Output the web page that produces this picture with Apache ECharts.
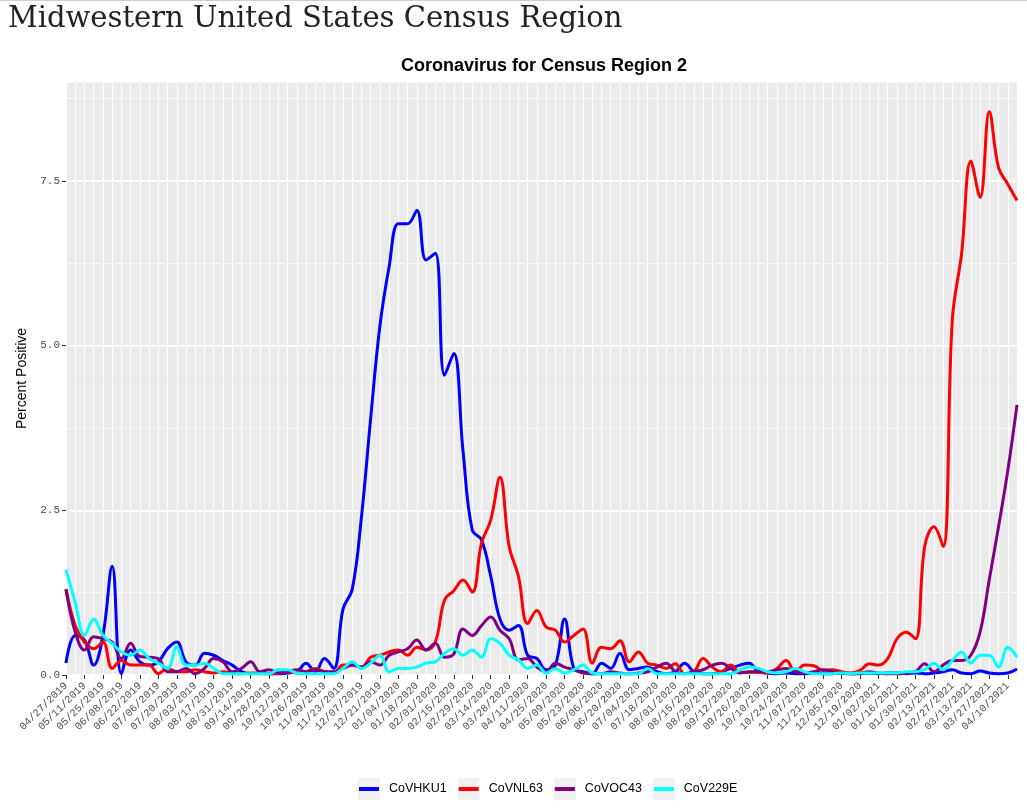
<!DOCTYPE html>
<html><head><meta charset="utf-8">
<script src="https://cdn.jsdelivr.net/npm/echarts@6/dist/echarts.min.js"></script>
<style>html,body{margin:0;padding:0;background:#fff}#c{width:1027px;height:809px}</style>
</head><body><div id="c"></div>
<script>
const weeks = [
'04/27/2019','05/04/2019','05/11/2019','05/18/2019','05/25/2019','06/01/2019','06/08/2019','06/15/2019','06/22/2019','06/29/2019',
'07/06/2019','07/13/2019','07/20/2019','07/27/2019','08/03/2019','08/10/2019','08/17/2019','08/24/2019','08/31/2019','09/07/2019',
'09/14/2019','09/21/2019','09/28/2019','10/05/2019','10/12/2019','10/19/2019','10/26/2019','11/02/2019','11/09/2019','11/16/2019',
'11/23/2019','11/30/2019','12/07/2019','12/14/2019','12/21/2019','12/28/2019','01/04/2020','01/11/2020','01/18/2020','01/25/2020',
'02/01/2020','02/08/2020','02/15/2020','02/22/2020','02/29/2020','03/07/2020','03/14/2020','03/21/2020','03/28/2020','04/04/2020',
'04/11/2020','04/18/2020','04/25/2020','05/02/2020','05/09/2020','05/16/2020','05/23/2020','05/30/2020','06/06/2020','06/13/2020',
'06/20/2020','06/27/2020','07/04/2020','07/11/2020','07/18/2020','07/25/2020','08/01/2020','08/08/2020','08/15/2020','08/22/2020',
'08/29/2020','09/05/2020','09/12/2020','09/19/2020','09/26/2020','10/03/2020','10/10/2020','10/17/2020','10/24/2020','10/31/2020',
'11/07/2020','11/14/2020','11/21/2020','11/28/2020','12/05/2020','12/12/2020','12/19/2020','12/26/2020','01/02/2021','01/09/2021',
'01/16/2021','01/23/2021','01/30/2021','02/06/2021','02/13/2021','02/20/2021','02/27/2021','03/06/2021','03/13/2021','03/20/2021',
'03/27/2021','04/03/2021','04/10/2021','04/17/2021'];

const yTicks = [0, 2.5, 5, 7.5];
const seriesNames = ['CoVHKU1', 'CoVNL63', 'CoVOC43', 'CoV229E'];
const seriesColors = ['#0000FF', '#FF0000', '#800080', '#00FFFF'];

const hku1 = [
0.18,0.6,0.53,0.15,0.6,1.65,0.02,0.38,0.2,0.15,
0.2,0.4,0.5,0.2,0.15,0.33,0.3,0.22,0.15,0.05,
0.02,0.03,0.02,0.02,0.03,0.05,0.18,0.05,0.25,0.1,
1.0,1.3,2.4,3.9,5.3,6.2,6.85,6.85,7.05,6.3,
6.4,4.55,4.88,3.4,2.2,2.05,1.5,0.85,0.68,0.75,
0.3,0.25,0.08,0.15,0.85,0.1,0.05,0.02,0.18,0.1,
0.33,0.08,0.1,0.12,0.05,0.02,0.05,0.18,0.05,0.02,
0.02,0.05,0.1,0.15,0.18,0.05,0.03,0.02,0.03,0.02,
0.02,0.03,0.02,0.02,0.03,0.02,0.02,0.03,0.02,0.03,
0.03,0.02,0.03,0.02,0.03,0.05,0.08,0.03,0.02,0.06,
0.03,0.02,0.03,0.09];

const nl63 = [
1.3,0.75,0.5,0.4,0.5,0.1,0.22,0.15,0.15,0.15,
0.02,0.1,0.05,0.05,0.08,0.05,0.03,0.05,0.03,0.02,
0.03,0.02,0.02,0.03,0.05,0.03,0.05,0.1,0.05,0.03,
0.15,0.15,0.12,0.27,0.3,0.35,0.38,0.3,0.42,0.38,
0.5,1.14,1.28,1.44,1.26,2.0,2.35,3.0,1.95,1.5,
0.78,0.98,0.73,0.68,0.5,0.6,0.7,0.18,0.42,0.4,
0.52,0.2,0.35,0.18,0.15,0.1,0.17,0.02,0.05,0.25,
0.12,0.05,0.15,0.04,0.04,0.04,0.03,0.1,0.22,0.05,
0.15,0.14,0.07,0.08,0.05,0.03,0.07,0.17,0.15,0.25,
0.55,0.65,0.55,1.95,2.25,1.95,5.4,6.4,7.8,7.25,
8.55,7.7,7.45,7.2];

const oc43 = [
1.3,0.65,0.38,0.58,0.55,0.5,0.25,0.48,0.28,0.27,
0.25,0.05,0.05,0.1,0.02,0.1,0.25,0.2,0.05,0.1,
0.2,0.05,0.08,0.03,0.05,0.08,0.05,0.08,0.05,0.05,
0.1,0.15,0.12,0.2,0.15,0.3,0.35,0.4,0.53,0.38,
0.48,0.27,0.32,0.7,0.6,0.75,0.88,0.68,0.55,0.23,
0.25,0.12,0.05,0.18,0.12,0.08,0.03,0.02,0.02,0.05,
0.03,0.02,0.03,0.05,0.12,0.18,0.05,0.02,0.05,0.08,
0.15,0.18,0.1,0.03,0.05,0.05,0.05,0.08,0.1,0.05,
0.03,0.05,0.08,0.05,0.03,0.02,0.03,0.05,0.03,0.02,
0.02,0.03,0.05,0.17,0.05,0.15,0.22,0.22,0.3,0.65,
1.45,2.25,3.1,4.1];

const c229e = [
1.6,1.1,0.6,0.85,0.6,0.48,0.35,0.3,0.38,0.25,
0.18,0.1,0.43,0.15,0.15,0.18,0.1,0.02,0.02,0.02,
0.02,0.02,0.02,0.08,0.08,0.03,0.02,0.02,0.02,0.02,
0.1,0.2,0.1,0.18,0.3,0.05,0.1,0.1,0.12,0.18,
0.2,0.33,0.4,0.3,0.38,0.27,0.55,0.48,0.3,0.23,
0.1,0.15,0.03,0.1,0.03,0.08,0.15,0.03,0.02,0.02,
0.02,0.02,0.02,0.1,0.02,0.02,0.02,0.02,0.02,0.02,
0.02,0.02,0.02,0.08,0.12,0.1,0.05,0.03,0.05,0.1,
0.05,0.02,0.02,0.02,0.03,0.02,0.03,0.03,0.03,0.03,
0.03,0.05,0.05,0.08,0.18,0.08,0.22,0.35,0.18,0.3,
0.3,0.12,0.42,0.27];

const seriesData = [hku1, nl63, oc43, c229e];

function keyIcon(color) {
  const svg = "<svg xmlns='http://www.w3.org/2000/svg' width='22' height='22'>" +
    "<rect width='22' height='22' fill='#F0F0F0'/>" +
    "<rect x='1' y='9' width='20' height='4' fill='" + color + "'/></svg>";
  return 'image://data:image/svg+xml;charset=utf-8,' + encodeURIComponent(svg);
}

const chart = echarts.init(document.getElementById('c'), null, {renderer: 'canvas'});
chart.setOption({
  animation: false,
  backgroundColor: '#FFFFFF',
  title: [
    {text: 'Midwestern United States Census Region', left: 3, top: 0,
     textStyle: {fontFamily: 'DejaVu Serif', fontSize: 29, fontWeight: 'normal', color: '#222222'}},
    {text: 'Coronavirus for Census Region 2', left: 539, top: 52, textAlign: 'center',
     textStyle: {fontFamily: 'Liberation Sans, Arial', fontSize: 18, fontWeight: 'bold', color: '#000000'}}
  ],
  graphic: [{type: 'rect', shape: {x: 0, y: 0, width: 1027, height: 1}, style: {fill: '#D0D0D0'}}],
  legend: {
    left: 353, top: 773, itemWidth: 22, itemHeight: 22, itemGap: 11,
    data: seriesNames.map((n, i) => ({name: n, icon: keyIcon(seriesColors[i])})),
    textStyle: {fontFamily: 'Liberation Sans, Arial', fontSize: 12.5, color: '#000000', padding: [0, 0, 0, 4]}
  },
  grid: {left: 66, right: 10, top: 82, bottom: 134, show: true, backgroundColor: '#EBEBEB', borderWidth: 0},
  xAxis: {
    type: 'category', data: weeks, boundaryGap: false,
    axisLine: {show: false},
    axisTick: {show: true, interval: 1, length: 4, lineStyle: {color: '#333333', width: 1}},
    axisLabel: {interval: 1, rotate: 45, fontFamily: 'Liberation Mono', fontSize: 10.5, color: '#4D4D4D', margin: 9},
    splitLine: {show: true, interval: 0, lineStyle: {color: '#FFFFFF', width: 1}}
  },
  yAxis: [
    {
      type: 'value', min: 0, max: 9, interval: 2.5,
      name: 'Percent Positive', nameLocation: 'middle', nameGap: 31,
      nameTextStyle: {fontFamily: 'Liberation Sans, Arial', fontSize: 14, color: '#000000'},
      axisLine: {show: false},
      axisTick: {show: true, length: 4, customValues: yTicks, lineStyle: {color: '#333333'}},
      axisLabel: {customValues: yTicks, formatter: v => v.toFixed(1), fontFamily: 'Liberation Mono', fontSize: 11, color: '#4D4D4D', margin: 6},
      splitLine: {show: true, lineStyle: {color: '#FFFFFF', width: 1.5}}
    },
    {
      type: 'value', min: 0, max: 9, interval: 1.25, position: 'left',
      axisLine: {show: false}, axisTick: {show: false}, axisLabel: {show: false},
      splitLine: {show: true, lineStyle: {color: '#FFFFFF', width: 0.7}}
    }
  ],
  series: seriesNames.map((n, i) => ({
    name: n, type: 'line', data: seriesData[i], yAxisIndex: 0,
    smooth: 0.4, symbol: 'none',
    lineStyle: {color: seriesColors[i], width: 3},
    itemStyle: {color: seriesColors[i]}
  }))
});
</script></body></html>
